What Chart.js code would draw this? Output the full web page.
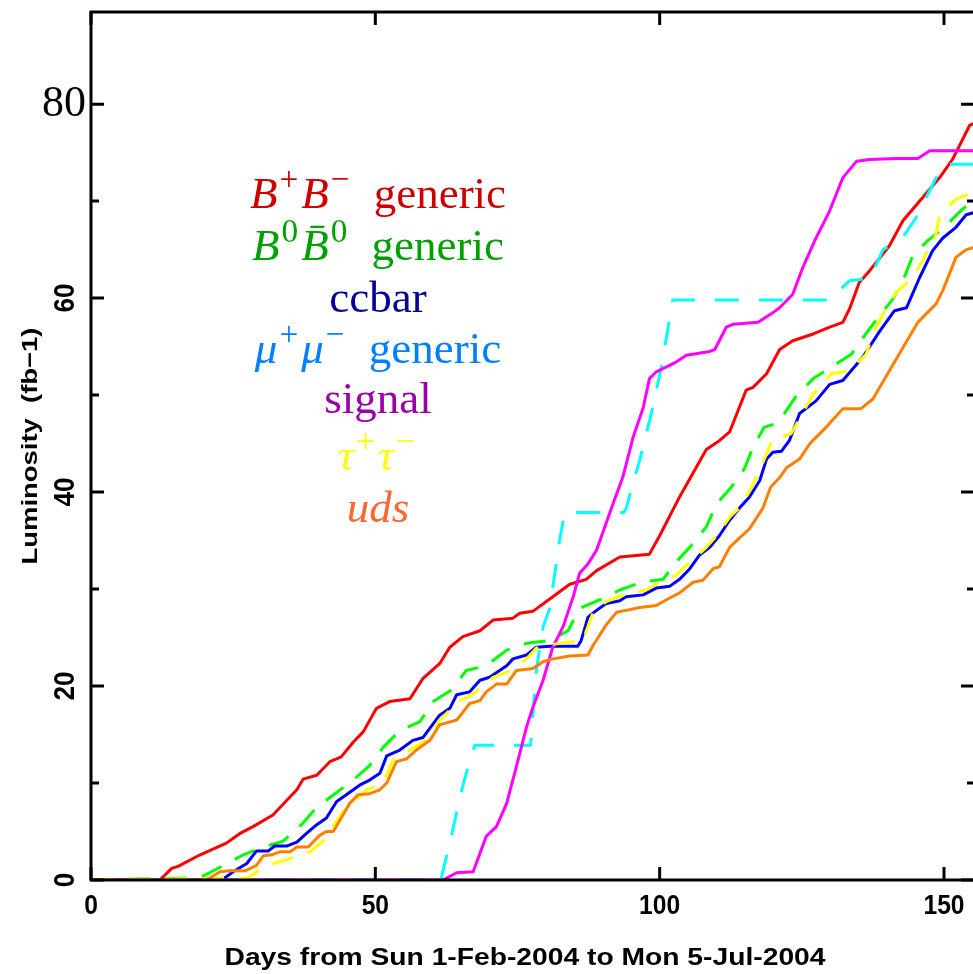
<!DOCTYPE html>
<html>
<head>
<meta charset="utf-8">
<script src="https://cdn.jsdelivr.net/npm/chart.js@4/dist/chart.umd.min.js"></script>
<style>
  html, body { margin: 0; padding: 0; background: #fff; }
  #wrap { position: relative; width: 973px; height: 974px; overflow: hidden; }
  #c { position: absolute; left: 0; top: 0; }
  .lg { position: absolute; left: 128px; width: 500px; text-align: center;
        font-family: "Liberation Serif", "DejaVu Serif", serif; font-size: 45px;
        line-height: 52px; white-space: nowrap; }
  .lg sup { font-size: 0.74em; position: relative; top: -0.05em; line-height: 0; vertical-align: super; margin: 0 3px 0 2px; }
  .lg i { font-style: italic; }
  .lg .gen { margin-left: 10px; }
</style>
</head>
<body>
<div id="wrap">
  <canvas id="c" width="973" height="974"></canvas>
  <div class="lg" style="top:167px;color:#cc0000"><i>B</i><sup>+</sup><i>B</i><sup>−</sup><span class="gen">&nbsp;generic</span></div>
  <div class="lg" style="top:219px;color:#00a000"><i>B</i><sup>0</sup><i>B̄</i><sup>0</sup><span class="gen">&nbsp;generic</span></div>
  <div class="lg" style="top:271px;color:#000099">ccbar</div>
  <div class="lg" style="top:322px;color:#0080ff"><i>μ</i><sup>+</sup><i>μ</i><sup>−</sup><span class="gen">&nbsp;generic</span></div>
  <div class="lg" style="top:372px;color:#9900aa">signal</div>
  <div class="lg" style="top:429px;color:#ffff00"><i>τ</i><sup>+</sup><i>τ</i><sup>−</sup></div>
  <div class="lg" style="top:481px;color:#ff6633"><i>uds</i></div>
</div>
<script>
// ---- data: [day, integrated luminosity (fb-1)] ----
const bPlusBMinus = [[0,0],[12.1,0],[14.2,1.2],[15.3,1.4],[19.2,2.6],[23.8,3.8],[26.2,4.8],[28.5,5.5],[32,6.7],[34.4,8.2],[36.2,9.3],[37.3,10.4],[39.7,10.8],[42,12.2],[44,12.7],[46.1,14.2],[47.9,15.3],[50.2,17.7],[52.5,18.4],[56.1,18.7],[58.4,20.8],[61.3,22.3],[63.1,24],[65.4,25.1],[68.4,25.7],[70.7,26.8],[74.2,27],[75.4,27.5],[77.7,27.7],[81.2,29.2],[84.2,30.5],[87.1,31],[88.9,31.9],[93,33.3],[98.2,33.6],[100,35.5],[103.5,39.5],[108.2,44.4],[110.5,45.3],[112.3,46.2],[115.2,50.5],[116.4,50.8],[118.8,52.2],[121.1,54.7],[123.4,55.6],[127,56.3],[129.9,57],[132.2,57.5],[133.4,58.9],[135.1,61.6],[136.9,62.8],[140.4,65.4],[142.8,68],[146.3,70.4],[149.2,72.4],[151.5,74.3],[154.5,77.8],[155.2,78]];
const b0B0bar = [[0,0],[16.8,0.2],[19.7,0.4],[23.3,1.5],[26.8,2.6],[30.3,3.4],[33.8,4],[37,5.7],[39.7,7.5],[42.9,8.9],[46.1,10.3],[49,11.8],[51.4,13.7],[54.3,15.4],[57.8,16.3],[60.2,18.4],[63.4,19.6],[66,21.6],[69.5,22.1],[73.1,23.7],[76.6,24.4],[80.7,24.7],[83.9,25.7],[85.9,28],[89.5,28.9],[93,29.9],[96.8,30.7],[100.6,31],[102.9,32.8],[105.9,34.7],[108.2,36.4],[110,38.8],[112.6,40.5],[114.9,42.4],[116.4,44.6],[118.4,46.7],[120.2,47],[121.7,47.9],[124,49.9],[127,51.7],[130.2,52.9],[133.7,54.2],[136,56.1],[138.4,58],[141,59.9],[143,62.1],[144.5,64.4],[147.1,65.9],[150.4,67.5],[153.3,69.2],[155.2,70]];
const ccbar = [[0,0],[23,0],[25,0.85],[27.4,1.7],[29.1,3],[31.2,3],[32.3,3.5],[34.4,3.5],[36.2,3.9],[37.9,4.8],[39.7,5.7],[41.4,6.4],[43.2,8.1],[44.9,8.8],[47.3,9.8],[49,10.3],[50.8,11],[52,12.8],[54.3,13.4],[56.6,14.4],[58.4,14.7],[61.3,17],[63.1,17.7],[64.3,19.1],[66.6,19.4],[68.4,20.6],[70.1,20.9],[73.1,22.1],[74.2,22.8],[76.6,23.2],[78.3,24],[80.7,24.1],[85.6,24.1],[86.2,24.7],[87.4,27.1],[88.9,27.8],[90.6,28.5],[93,28.8],[94.1,29.2],[97.1,29.4],[99.4,30.1],[101.8,30.3],[103.5,31],[105.3,32.1],[107,33.5],[108.8,34.3],[110.5,35.5],[112.3,37.1],[114.1,38.4],[115.8,39.5],[117.6,41.2],[118.8,43.4],[119.9,44.1],[121.4,44.2],[122.8,45.3],[124.6,48.1],[127.5,49.4],[129.9,51.1],[132.2,51.5],[135.7,53.9],[138.7,56.6],[141.3,58.7],[143.4,59],[145.7,62.1],[148,64.9],[149.8,66.2],[152.1,67.3],[153.9,68.6],[155.2,68.8]];
const muPlusMuMinus = [[0,0],[61.5,0],[63.1,3.8],[64.9,8.6],[66.3,11.7],[67.5,13.9],[77.3,13.9],[78.3,21.6],[79.5,26.1],[80.7,28.1],[82.4,35],[83.3,37.9],[93.7,37.9],[94.1,38.3],[95.3,40.9],[96.5,43.3],[98.5,48],[100.3,52.9],[101.2,56],[102.3,59.8],[130,59.8],[131.6,60.8],[133.4,61.8],[136.9,62],[139.3,65],[142.8,66.3],[145.1,68.3],[146.9,70.4],[148.6,72.4],[150,73.8],[155.2,73.8]];
const signal = [[0,0],[61.9,0],[64.3,0.75],[67.2,0.85],[69.5,4.5],[71.3,5.5],[73.1,7.9],[74.8,11.7],[76.6,15.8],[77.7,17.8],[79.5,20.6],[81.2,24],[83,26.1],[84.8,29.2],[85.9,31.6],[87.4,32.6],[88.9,34],[91.8,38.8],[93.5,41.5],[95.3,45.6],[97.1,48.7],[98.2,51.7],[99.4,52.4],[102.9,53.4],[104.7,54.1],[108.8,54.5],[109.7,54.7],[111.7,57],[112.9,57.3],[117.3,57.5],[119.9,58.5],[121.1,59],[123.4,60.4],[125.2,63.2],[127.5,66.2],[129.9,69],[132.2,72.4],[134.6,74.1],[136.9,74.3],[141.6,74.4],[145.4,74.4],[147.5,75.2],[155.2,75.2]];
const tauPlusTauMinus = [[0,0],[27.5,0.2],[30.9,1.5],[34.4,2.1],[38.5,2.9],[40.8,4],[44.3,7],[45.5,7.7],[48.5,9.3],[51.4,10],[53.1,12.4],[54,12.9],[56.1,13.4],[59.6,14.7],[61.3,16.5],[64.9,18.5],[67.2,19.2],[70.7,20.9],[73.1,21.4],[76.6,22.8],[78.3,23.9],[80.1,24.2],[83.6,24.5],[86.5,24.7],[88.3,27.6],[90.6,28.7],[94.1,29.5],[97.6,29.9],[100.6,30.9],[102.9,31.4],[104.1,32.1],[108.2,34.3],[109.7,35.3],[112.3,37.4],[114.4,38.6],[116.4,40.8],[118.2,43.1],[119.9,45.5],[123.1,46],[127,50.1],[130.2,52.2],[133.4,52.5],[136.3,54.2],[137.5,56.3],[139.8,59],[141.6,60.6],[144.5,62.1],[146.3,63.9],[148.6,66.6],[149.2,68.5],[152.1,70.2],[155.2,70.9]];
const uds = [[0,0],[20.3,0],[22.7,0.85],[24.4,0.95],[27.1,0.95],[29.1,1.5],[30.3,2.5],[31.8,2.6],[33.2,2.9],[35,2.9],[36.2,3.4],[38.2,3.4],[40.2,4.6],[41.4,5],[42.6,5],[44,6.4],[45.5,7.9],[47,8.8],[49,8.9],[50.8,9.3],[52,10],[53.7,12.2],[55.5,12.5],[57.2,13.4],[59.6,14.4],[61.3,16],[64.3,16.5],[66.6,18.2],[68.4,18.5],[69.5,19.4],[71.3,20.2],[73.1,20.2],[74.8,21.6],[77.7,21.8],[79.5,22.5],[81.2,22.8],[84.2,23.1],[87.4,23.2],[88.3,24.2],[90.6,26.3],[92.4,27.6],[94.1,27.8],[96.5,28.1],[99.4,28.3],[101.2,28.9],[103.5,29.6],[105.9,30.7],[107.6,30.9],[109.4,32.1],[110.5,32.3],[112.3,34.3],[114.1,35.3],[115.8,36.2],[118.2,38.4],[119.5,40.5],[121.1,41.5],[122.3,42.5],[124.6,43.4],[126.4,45],[129.3,46.7],[132.2,48.6],[135.4,48.6],[137.5,49.6],[141.3,53.4],[145.4,57.5],[148.6,59.4],[149.8,60.8],[152.1,64.2],[153.9,65],[155.2,65.2]];

const xTicks = [0, 50, 100, 150];
const yMajorTicks = [0, 20, 40, 60, 80];
const yMinorTicks = [10, 30, 50, 70];
const xTitle = "Days from Sun 1-Feb-2004 to Mon 5-Jul-2004";
const yTitle = "Luminosity  (fb\u22121)";

const series = [
  { name: "B+B- generic", data: bPlusBMinus, color: "#ff0000", dash: [] },
  { name: "B0B0bar generic", data: b0B0bar, color: "#00ff00", dash: [22, 15] },
  { name: "ccbar", data: ccbar, color: "#0000ff", dash: [] },
  { name: "mu+mu- generic", data: muPlusMuMinus, color: "#00ffff", dash: [24, 20] },
  { name: "signal", data: signal, color: "#ff00ff", dash: [] },
  { name: "tau+tau-", data: tauPlusTauMinus, color: "#ffff00", dash: [22, 15] },
  { name: "uds", data: uds, color: "#ff8000", dash: [] }
];

function fitText(ctx, text, font, targetW) {
  ctx.font = font;
  const w = ctx.measureText(text).width;
  return targetW / w;
}

const framePlugin = {
  id: 'frame',
  afterDatasetsDraw(chart) {
    const ctx = chart.ctx;
    const xs = chart.scales.x, ys = chart.scales.y;
    const a = chart.chartArea;
    ctx.save();
    ctx.strokeStyle = '#000';
    ctx.lineWidth = 3;
    ctx.lineCap = 'butt';
    ctx.beginPath();
    ctx.moveTo(a.left, a.bottom + 1.5); ctx.lineTo(a.left, a.top - 1.5);
    ctx.moveTo(a.left - 1.5, a.top); ctx.lineTo(a.right, a.top);
    ctx.moveTo(a.left - 1.5, a.bottom); ctx.lineTo(a.right, a.bottom);
    ctx.stroke();
    ctx.beginPath();
    xTicks.forEach(v => {
      const px = xs.getPixelForValue(v);
      ctx.moveTo(px, a.bottom); ctx.lineTo(px, a.bottom - 13);
      ctx.moveTo(px, a.top); ctx.lineTo(px, a.top + 13);
    });
    yMajorTicks.forEach(v => {
      const py = ys.getPixelForValue(v);
      ctx.moveTo(a.left, py); ctx.lineTo(a.left + 13, py);
      ctx.moveTo(a.right, py); ctx.lineTo(a.right - 12, py);
    });
    yMinorTicks.forEach(v => {
      const py = ys.getPixelForValue(v);
      ctx.moveTo(a.left, py); ctx.lineTo(a.left + 8, py);
      ctx.moveTo(a.right, py); ctx.lineTo(a.right - 6, py);
    });
    ctx.stroke();

    ctx.fillStyle = '#000';
    ctx.textAlign = 'center';
    ctx.textBaseline = 'middle';
    const xf = 'bold 28px "Liberation Sans", Arial, sans-serif';
    xTicks.forEach(v => {
      const px = xs.getPixelForValue(v);
      ctx.save();
      ctx.translate(px, 906);
      ctx.scale(0.88, 1);
      ctx.font = xf;
      ctx.fillText(String(v), 0, 0);
      ctx.restore();
    });
    yMajorTicks.forEach(v => {
      const py = ys.getPixelForValue(v);
      ctx.save();
      if (v === 80) {
        ctx.font = '44px "Liberation Serif", "DejaVu Serif", serif';
        ctx.fillText(String(v), 64, py);
      } else {
        ctx.translate(66, py);
        ctx.rotate(-Math.PI / 2);
        ctx.scale(0.9, 1);
        ctx.font = 'bold 29px "Liberation Sans", Arial, sans-serif';
        ctx.fillText(String(v), 0, 0);
      }
      ctx.restore();
    });
    const tf = 'bold 23px "Liberation Sans", Arial, sans-serif';
    let s = fitText(ctx, xTitle, tf, 601);
    ctx.save();
    ctx.translate(525, 959);
    ctx.scale(s, 1);
    ctx.font = tf;
    ctx.fillText(xTitle, 0, 0);
    ctx.restore();
    const yf = 'bold 22px "Liberation Sans", Arial, sans-serif';
    s = fitText(ctx, yTitle, yf, 237);
    ctx.save();
    ctx.translate(31, 446);
    ctx.rotate(-Math.PI / 2);
    ctx.scale(s, 1);
    ctx.font = yf;
    ctx.fillText(yTitle, 0, 0);
    ctx.restore();
    ctx.restore();
  }
};

new Chart(document.getElementById('c').getContext('2d'), {
  type: 'line',
  data: {
    datasets: series.map((s, i) => ({
      label: s.name,
      data: s.data.map(p => ({ x: p[0], y: p[1] })),
      borderColor: s.color,
      backgroundColor: s.color,
      borderWidth: 3,
      borderDash: s.dash,
      borderJoinStyle: 'round',
      borderCapStyle: 'butt',
      pointRadius: 0,
      tension: 0,
      fill: false,
      order: series.length - i
    }))
  },
  options: {
    responsive: false,
    animation: false,
    events: [],
    layout: { padding: { left: 91, top: 12, right: 0, bottom: 94 } },
    scales: {
      x: { type: 'linear', min: 0, max: 155.1, display: false },
      y: { type: 'linear', min: 0, max: 89.5, display: false }
    },
    plugins: { legend: { display: false }, tooltip: { enabled: false } }
  },
  plugins: [framePlugin]
});
</script>
</body>
</html>
